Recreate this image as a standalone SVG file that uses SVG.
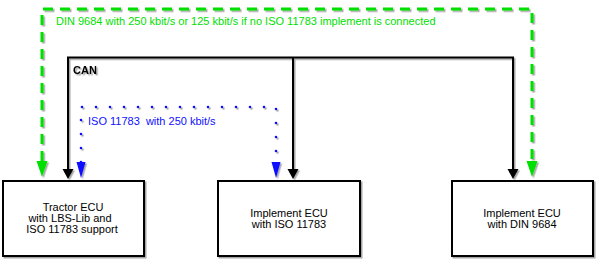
<svg xmlns="http://www.w3.org/2000/svg" width="600" height="261" viewBox="0 0 600 261">
  <style>
    text { font-family: "Liberation Sans", Arial, sans-serif; font-size: 11px; }
    .box rect { fill: #ffffff; stroke: #000000; stroke-width: 2; }
    .box text { fill: #000000; text-anchor: middle; }
    .can { fill: none; stroke: #000000; stroke-width: 2; }
    .din { fill: none; stroke: #00e000; stroke-width: 3; stroke-dasharray: 10 7; }
    .iso { fill: none; stroke: #1010ff; stroke-width: 2.6; stroke-dasharray: 0 14; stroke-linecap: round; }
    .lbl-din { fill: #00e000; }
    .lbl-iso { fill: #1010ff; }
    .lbl-can { fill: #000000; font-weight: bold; }
  </style>
  <defs>
    <filter id="shadow" x="-5%" y="-5%" width="115%" height="115%">
      <feDropShadow dx="1.5" dy="1.5" stdDeviation="0.7" flood-color="#000000" flood-opacity="0.35"/>
    </filter>
    <marker id="arrow-can" markerUnits="userSpaceOnUse" markerWidth="12" markerHeight="12" refX="0" refY="6" orient="auto-start-reverse" viewBox="0 0 12 12">
      <path d="M0,0.5 L10,6 L0,11.5 z" fill="#000000"/>
    </marker>
    <marker id="arrow-din" markerUnits="userSpaceOnUse" markerWidth="17" markerHeight="12" refX="0" refY="6" orient="auto-start-reverse" viewBox="0 0 17 12">
      <path d="M0,0.5 L16,6 L0,11.5 z" fill="#00e000"/>
    </marker>
    <marker id="arrow-iso" markerUnits="userSpaceOnUse" markerWidth="17" markerHeight="10" refX="0" refY="5" orient="auto-start-reverse" viewBox="0 0 17 10">
      <path d="M0,0.5 L16,5 L0,9.5 z" fill="#1010ff"/>
    </marker>
  </defs>

  <!-- bus connectors -->
  <g id="connectors" filter="url(#shadow)">
    <path id="bus-din" class="din" d="M42,161 V9 H532 V161" marker-start="url(#arrow-din)" marker-end="url(#arrow-din)"/>
    <path id="bus-can" class="can" d="M68,169 V57.5 H513 V169" marker-start="url(#arrow-can)" marker-end="url(#arrow-can)"/>
    <path id="bus-can-branch" class="can" d="M293,57.5 V169" marker-end="url(#arrow-can)"/>
    <path id="bus-iso" class="iso" d="M81,162 V107 H276 V162" marker-start="url(#arrow-iso)" marker-end="url(#arrow-iso)"/>
  </g>

  <!-- bus labels -->
  <text class="lbl-din" x="56" y="25">DIN 9684 with 250 kbit/s or 125 kbit/s if no ISO 11783 implement is connected</text>
  <text class="lbl-can" x="73" y="74" filter="url(#shadow)">CAN</text>
  <text class="lbl-iso" x="88" y="125" xml:space="preserve">ISO 11783  with 250 kbit/s</text>

  <!-- control units -->
  <g id="tractor-ecu" class="box">
    <rect x="3" y="181" width="141" height="75" filter="url(#shadow)"/>
    <text x="73" y="211">Tractor ECU</text>
    <text x="70" y="222">with LBS-Lib and</text>
    <text x="72" y="233">ISO 11783 support</text>
  </g>
  <g id="implement-iso" class="box">
    <rect x="218" y="181" width="142" height="75" filter="url(#shadow)"/>
    <text x="289" y="217">Implement ECU</text>
    <text x="289" y="228">with ISO 11783</text>
  </g>
  <g id="implement-din" class="box">
    <rect x="452" y="181" width="141" height="75" filter="url(#shadow)"/>
    <text x="522" y="217">Implement ECU</text>
    <text x="522" y="228">with DIN 9684</text>
  </g>
</svg>
